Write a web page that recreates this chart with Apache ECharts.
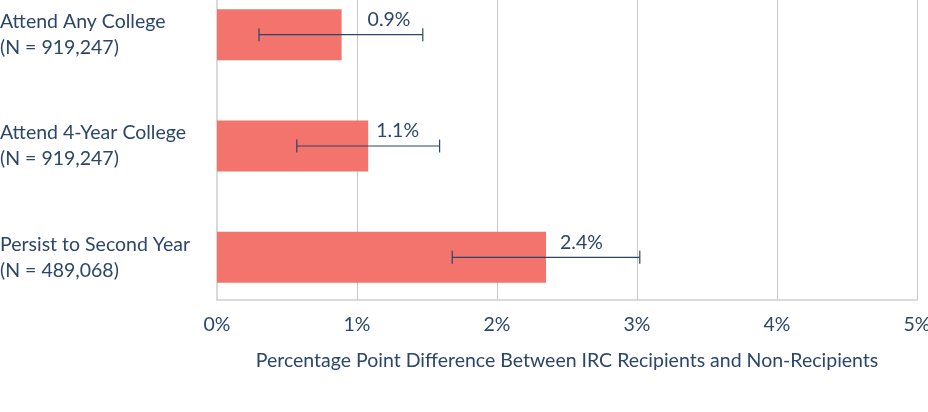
<!DOCTYPE html>
<html>
<head>
<meta charset="utf-8">
<script src="https://cdn.jsdelivr.net/npm/echarts@6/dist/echarts.min.js"></script>
<style>
html,body{margin:0;padding:0;background:#fff;}
#chart{width:928px;height:412px;}
</style>
</head>
<body>
<div id="chart"></div>
<script>
const categories = ['Attend Any College\n(N = 919,247)', 'Attend 4-Year College\n(N = 919,247)', 'Persist to Second Year\n(N = 489,068)'];
const values = [0.89, 1.08, 2.35];
const lowerCI = [0.30, 0.57, 1.68];
const upperCI = [1.47, 1.59, 3.02];
const valueLabels = ['0.9%', '1.1%', '2.4%'];
const xTicks = [0, 1, 2, 3, 4, 5];
const axisTitle = 'Percentage Point Difference Between IRC Recipients and Non-Recipients';

const TEXT = '#2b4669';
const FONT = 'Lato';
const FS = 19.5;
const labelOffsets = [[18, -15], [0, -15], [6, -15]];

const chart = echarts.init(document.getElementById('chart'));
chart.setOption({
  animation: false,
  backgroundColor: '#fff',
  textStyle: { fontFamily: FONT, color: TEXT },
  grid: [
    { left: 217, right: 11, top: -21, height: 334, containLabel: false, outerBoundsMode: 'none' },
    { left: 217, right: 11, top: 0, height: 300, containLabel: false, outerBoundsMode: 'none' }
  ],
  xAxis: [
    { gridIndex: 0, type: 'value', min: xTicks[0], max: xTicks[xTicks.length - 1], show: false },
    {
      gridIndex: 1, type: 'value', min: xTicks[0], max: xTicks[xTicks.length - 1], interval: 1,
      axisLine: { show: true, lineStyle: { color: '#d0d0d0', width: 1.5 } },
      axisTick: { show: false },
      splitLine: { show: true, lineStyle: { color: '#c8c8c8', width: 1 } },
      axisLabel: { margin: 15, fontSize: FS, fontFamily: FONT, color: TEXT, formatter: v => v + '%' },
      name: axisTitle, nameLocation: 'middle', nameGap: 51,
      nameTextStyle: { fontSize: FS, fontFamily: FONT, color: TEXT }
    }
  ],
  yAxis: [
    {
      gridIndex: 0, type: 'category', data: categories, inverse: true,
      axisLine: { show: false }, axisTick: { show: false }, splitLine: { show: false },
      axisLabel: { margin: 217, align: 'left', fontSize: FS, lineHeight: 26, padding: [5, 0, 0, 0], fontFamily: FONT, color: TEXT }
    },
    {
      gridIndex: 1, type: 'value', min: 0, max: 1,
      axisLine: { show: true, lineStyle: { color: '#d9d9d9', width: 2 } },
      axisTick: { show: false }, axisLabel: { show: false }, splitLine: { show: false }
    }
  ],
  series: [
    {
      type: 'bar', xAxisIndex: 0, yAxisIndex: 0, barWidth: 51,
      itemStyle: { color: '#f2746c' },
      data: values.map((v, i) => ({
        value: v,
        label: { show: true, position: 'right', distance: 8, offset: labelOffsets[i],
          formatter: () => valueLabels[i], fontSize: FS, fontFamily: FONT, color: TEXT }
      }))
    },
    {
      type: 'custom', xAxisIndex: 0, yAxisIndex: 0,
      encode: { x: [1, 2], y: 0 },
      data: categories.map((c, i) => [i, lowerCI[i], upperCI[i]]),
      renderItem: function (params, api) {
        const idx = api.value(0);
        const lo = api.coord([api.value(1), idx]);
        const hi = api.coord([api.value(2), idx]);
        const h = 6.5;
        const style = { stroke: '#2b4669', lineWidth: 1.2, fill: null };
        return {
          type: 'group',
          children: [
            { type: 'line', shape: { x1: lo[0], y1: lo[1], x2: hi[0], y2: hi[1] }, style },
            { type: 'line', shape: { x1: lo[0], y1: lo[1] - h, x2: lo[0], y2: lo[1] + h }, style },
            { type: 'line', shape: { x1: hi[0], y1: hi[1] - h, x2: hi[0], y2: hi[1] + h }, style }
          ]
        };
      },
      z: 5
    }
  ]
});
</script>
</body>
</html>
